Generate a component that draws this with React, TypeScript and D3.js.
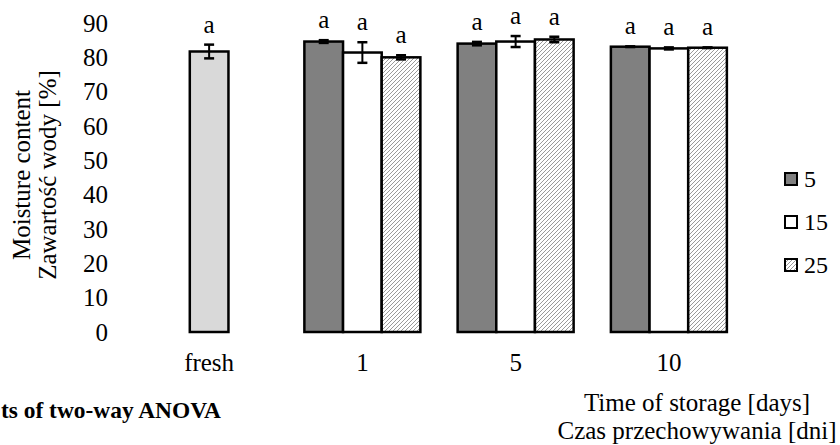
import React, { useEffect, useRef } from 'react';
import * as d3 from 'd3';

const categories = ['fresh', '1', '5', '10'];
const seriesNames = ['5', '15', '25'];
const freshValue = 81.7;
const freshErr = 2;
// values per storage time (1, 5, 10 days) for each series 5, 15, 25
const values5 = [84.6, 84.0, 83.1];
const values15 = [81.4, 84.6, 82.6];
const values25 = [80.0, 85.2, 82.8];
const err5 = [0.4, 0.5, 0.1];
const err15 = [3, 1.6, 0.3];
const err25 = [0.6, 0.8, 0.1];
const letters = ['a', 'a', 'a'];
const yTicks = [0, 10, 20, 30, 40, 50, 60, 70, 80, 90];

const fills = ['#808080', '#ffffff', 'url(#hatch)'];
const font = '"Liberation Serif", "Times New Roman", serif';
const fs = 25;

const App = () => {
  const ref = useRef<SVGSVGElement>(null);

  useEffect(() => {
    const svg = d3.select(ref.current);
    svg.selectAll('*').remove();

    const y = d3.scaleLinear().domain([0, 90]).range([332, 23]);
    const x = d3.scaleBand().domain(categories).range([132.5, 745.5]).padding(0);
    const inner = d3.scaleBand().domain(seriesNames).range([-58, 58]);

    const defs = svg.append('defs');
    const pat = defs.append('pattern')
      .attr('id', 'hatch')
      .attr('patternUnits', 'userSpaceOnUse')
      .attr('width', 4)
      .attr('height', 4);
    pat.append('rect').attr('width', 4).attr('height', 4).attr('fill', '#fff');
    pat.append('path')
      .attr('d', 'M-1,1 l2,-2 M0,4 l4,-4 M3,5 l2,-2')
      .attr('stroke', '#9a9a9a')
      .attr('stroke-width', 1);

    // y tick labels
    svg.append('g')
      .selectAll('text')
      .data(yTicks)
      .enter()
      .append('text')
      .attr('x', 108)
      .attr('y', d => y(d))
      .attr('dy', '0.35em')
      .attr('text-anchor', 'end')
      .attr('font-family', font)
      .attr('font-size', fs)
      .text(d => d);

    // y title
    const yt = svg.append('text')
      .attr('transform', 'translate(0,175) rotate(-90)')
      .attr('text-anchor', 'middle')
      .attr('font-family', font)
      .attr('font-size', fs);
    yt.append('tspan').attr('x', 0).attr('y', 30).text('Moisture content');
    yt.append('tspan').attr('x', 0).attr('y', 56).text('Zawartość wody [%]');

    const drawBar = (cx: number, w: number, v: number, e: number, fill: string, letter: string) => {
      const g = svg.append('g');
      g.append('rect')
        .attr('x', cx - w / 2)
        .attr('y', y(v))
        .attr('width', w)
        .attr('height', y(0) - y(v))
        .attr('fill', fill)
        .attr('stroke', '#000')
        .attr('stroke-width', 2.5);
      const top = y(v + e), bot = y(v - e);
      g.append('line').attr('x1', cx).attr('x2', cx).attr('y1', top).attr('y2', bot)
        .attr('stroke', '#000').attr('stroke-width', 2);
      [top, bot].forEach(yy => {
        g.append('line').attr('x1', cx - 5).attr('x2', cx + 5).attr('y1', yy).attr('y2', yy)
          .attr('stroke', '#000').attr('stroke-width', 2.5);
      });
      g.append('text')
        .attr('x', cx)
        .attr('y', Math.min(top, y(v)) - 12)
        .attr('text-anchor', 'middle')
        .attr('font-family', font)
        .attr('font-size', fs)
        .text(letter);
    };

    const bw = inner.bandwidth();
    const freshCx = (x('fresh') as number) + x.bandwidth() / 2;
    drawBar(freshCx, bw, freshValue, freshErr, '#d9d9d9', 'a');

    const allVals = [values5, values15, values25];
    const allErr = [err5, err15, err25];
    categories.slice(1).forEach((c, i) => {
      const center = (x(c) as number) + x.bandwidth() / 2;
      seriesNames.forEach((s, j) => {
        const cx = center + (inner(s) as number) + bw / 2;
        drawBar(cx, bw, allVals[j][i], allErr[j][i], fills[j], letters[j]);
      });
    });

    // x labels
    svg.append('g')
      .selectAll('text')
      .data(categories)
      .enter()
      .append('text')
      .attr('x', d => (x(d) as number) + x.bandwidth() / 2)
      .attr('y', 371)
      .attr('text-anchor', 'middle')
      .attr('font-family', font)
      .attr('font-size', fs)
      .text(d => d);

    // x title
    svg.append('text')
      .attr('x', 697).attr('y', 411)
      .attr('text-anchor', 'middle')
      .attr('font-family', font).attr('font-size', fs)
      .text('Time of storage [days]');
    svg.append('text')
      .attr('x', 697).attr('y', 439)
      .attr('text-anchor', 'middle')
      .attr('font-family', font).attr('font-size', fs)
      .text('Czas przechowywania [dni]');

    // legend
    const leg = svg.append('g');
    seriesNames.forEach((s, j) => {
      const ly = 179 + j * 43;
      leg.append('rect')
        .attr('x', 785).attr('y', ly - 6)
        .attr('width', 12).attr('height', 12)
        .attr('fill', fills[j])
        .attr('stroke', '#000').attr('stroke-width', 2);
      leg.append('text')
        .attr('x', 804).attr('y', ly)
        .attr('dy', '0.35em')
        .attr('font-family', font).attr('font-size', 24)
        .text(s);
    });

    // caption fragment visible at the lower left edge
    svg.append('text')
      .attr('x', 1).attr('y', 418)
      .attr('font-family', font)
      .attr('font-size', 23)
      .attr('font-weight', 'bold')
      .attr('textLength', 220)
      .attr('lengthAdjust', 'spacingAndGlyphs')
      .text('ts of two-way ANOVA');
  }, []);

  return (
    <svg
      ref={ref}
      width={840}
      height={445}
      style={{ position: 'absolute', left: 0, top: 0, background: '#fff' }}
    />
  );
};

export default App;
